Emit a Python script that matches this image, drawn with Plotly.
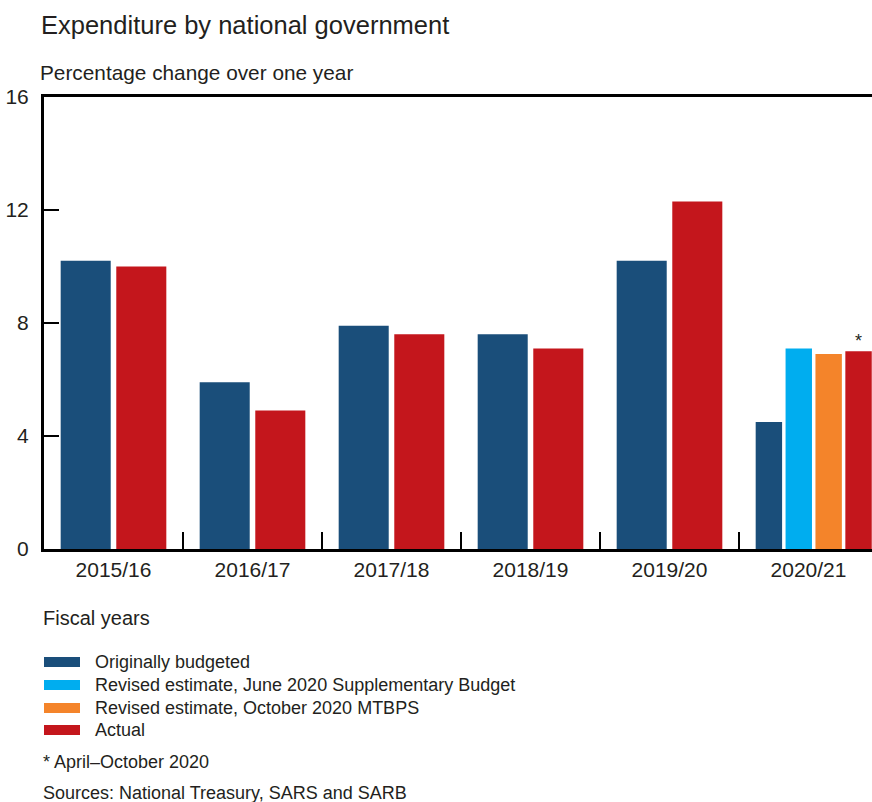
import plotly.graph_objects as go

# Fiscal years and growth in national government expenditure (% y/y)
years = ["2015/16", "2016/17", "2017/18", "2018/19", "2019/20", "2020/21"]
series_names = [
    "Originally budgeted",
    "Revised estimate, June 2020 Supplementary Budget",
    "Revised estimate, October 2020 MTBPS",
    "Actual",
]
originally_budgeted = [10.2, 5.9, 7.9, 7.6, 10.2, 4.5]
june_2020_revised = [None, None, None, None, None, 7.1]
october_2020_revised = [None, None, None, None, None, 6.9]
actual = [10.0, 4.9, 7.6, 7.1, 12.3, 7.0]
y_ticks = [0, 4, 8, 12, 16]

colors = ["#1a4e7a", "#00adef", "#f4842a", "#c4161c"]
TEXT = "#231f20"
FONT = "Liberation Sans"

# canvas geometry (pixels)
W, H = 872, 802
L, R, T, B = 44, 872, 97, 549


def px(x, y):
    """pixel position -> paper coordinates"""
    return (x - L) / (R - L), (B - y) / (B - T)


series = [originally_budgeted, june_2020_revised, october_2020_revised, actual]

# horizontal offset of each series within a fiscal-year group
two_bar_offsets = {0: -0.2, 3: 0.2}
four_bar_offsets = {0: -0.285, 1: -0.07, 2: 0.145, 3: 0.36}
two_bar_width, four_bar_width = 0.36, 0.19

fig = go.Figure()
for s, (name, vals) in enumerate(zip(series_names, series)):
    xs, ys, ws = [], [], []
    for g, v in enumerate(vals):
        if v is None:
            continue
        n_in_group = sum(1 for ser in series if ser[g] is not None)
        if n_in_group == 2:
            xs.append(g + two_bar_offsets[s]); ws.append(two_bar_width)
        else:
            xs.append(g + four_bar_offsets[s]); ws.append(four_bar_width)
        ys.append(v)
    fig.add_trace(go.Bar(x=xs, y=ys, width=ws, name=name,
                         marker=dict(color=colors[s], line=dict(width=0)),
                         showlegend=False))

# asterisk over the partial-year actual
last = len(years) - 1
fig.add_annotation(x=last + four_bar_offsets[3], y=actual[last], text="*",
                   showarrow=False, yanchor="bottom", yshift=-2,
                   font=dict(family=FONT, size=18, color=TEXT))


def add_text(x, y, text, size, anchor="left"):
    xp, yp = px(x, y)
    fig.add_annotation(xref="paper", yref="paper", x=xp, y=yp, text=text,
                       showarrow=False, xanchor=anchor, yanchor="middle",
                       font=dict(family=FONT, size=size, color=TEXT))


add_text(39, 25, "Expenditure by national government", 25.5)
add_text(38, 72, "Percentage change over one year", 20.8)
add_text(41, 618, "Fiscal years", 20)

# legend: wide swatches with labels
legend_rows = [662, 685, 708, 730]
for name, c, yy in zip(series_names, colors, legend_rows):
    x0, y0 = px(44, yy - 5)
    x1, y1 = px(80, yy + 5)
    fig.add_shape(type="rect", xref="paper", yref="paper", x0=x0, x1=x1,
                  y0=y0, y1=y1, fillcolor=c, line=dict(width=0))
    add_text(93, yy, name, 18)

add_text(41, 762, "* April\u2013October 2020", 18)
add_text(41, 793, "Sources: National Treasury, SARS and SARB", 18)

fig.update_layout(
    width=W, height=H,
    margin=dict(l=L, r=W - R, t=T, b=H - B, pad=0),
    paper_bgcolor="white", plot_bgcolor="white",
    barmode="overlay",
    font=dict(family=FONT, color=TEXT),
    xaxis=dict(
        range=[-0.5, (R - L) / 139 - 0.5],
        tickvals=list(range(len(years))), ticktext=years,
        ticks="", showgrid=False, zeroline=False,
        showline=True, linecolor="black", linewidth=3, mirror=True,
        tickfont=dict(size=21, color=TEXT),
        minor=dict(tickvals=[i + 0.5 for i in range(len(years) - 1)],
                   ticks="inside", ticklen=17, tickwidth=2,
                   tickcolor="black", showgrid=False),
    ),
    yaxis=dict(
        range=[0, 16], tickvals=y_ticks,
        ticks="inside", ticklen=15, tickwidth=2, tickcolor="black",
        showgrid=False, zeroline=False,
        showline=True, linecolor="black", linewidth=3,
        tickfont=dict(size=21, color=TEXT), ticklabelstandoff=8,
    ),
)

fig.write_html("out.html")
